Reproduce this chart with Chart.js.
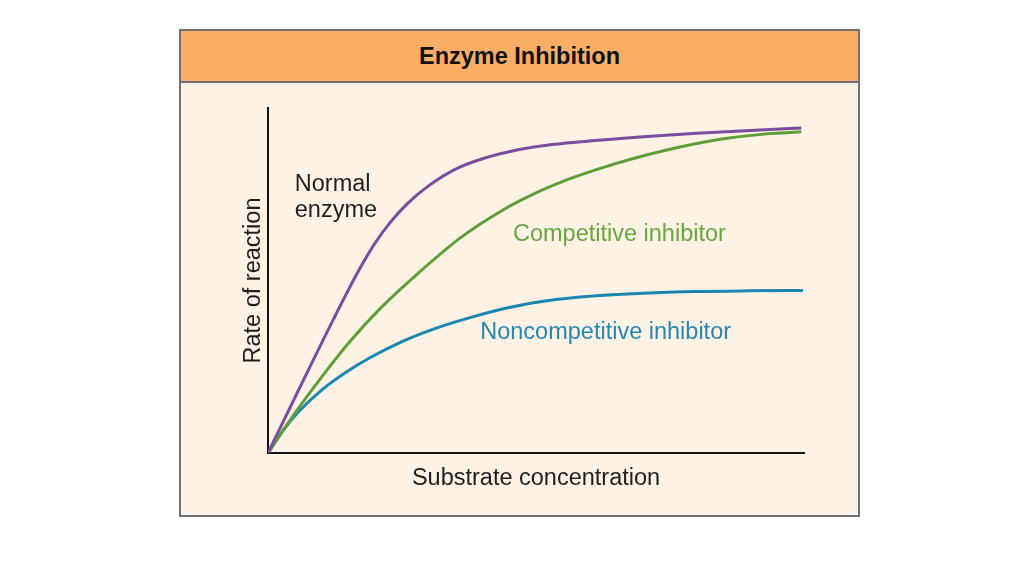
<!DOCTYPE html>
<html>
<head>
<meta charset="utf-8">
<title>Enzyme Inhibition</title>
<script src="https://cdn.jsdelivr.net/npm/chart.js@4"></script>
<style>
  html, body {
    margin: 0;
    padding: 0;
    width: 1024px;
    height: 576px;
    background: #ffffff;
    overflow: hidden;
    font-family: "Liberation Sans", Arial, sans-serif;
  }
  .frame {
    position: absolute;
    left: 179px;
    top: 29px;
    width: 677px;
    height: 484px;
    border: 2px solid #707074;
    background: #fdf2e4;
  }
  .frame .header {
    height: 50px;
    line-height: 50px;
    background: #f9ae64;
    border-bottom: 2px solid #707074;
    text-align: center;
    font-weight: bold;
    font-size: 23.5px;
    color: #111111;
  }
  #chart {
    position: absolute;
    left: 0;
    top: 0;
  }
</style>
</head>
<body>
<div class="frame">
  <div class="header">Enzyme Inhibition</div>
</div>
<canvas id="chart" width="1024" height="576"></canvas>

<script>
// Values (x: substrate concentration, y: rate, both 0-100)
const normalX = [0, 6, 12, 17, 20, 23, 26, 30, 35, 40, 46, 53, 61, 70, 80, 90, 99.5];
const normalY = [0, 19.2, 38.1, 53.1, 60.9, 67.2, 72.3, 77.5, 82.3, 85.3, 87.7, 89.4, 90.6, 91.7, 92.7, 93.5, 94.2];

const competitiveX = [0, 5, 10, 15, 21, 28, 36, 44, 50, 56, 62, 68, 74, 80, 86, 93, 99.5];
const competitiveY = [0, 11.5, 22.0, 31.8, 42.0, 52.1, 62.5, 70.6, 75.4, 79.3, 82.5, 85.3, 87.7, 89.7, 91.3, 92.5, 93.1];

const noncompetitiveX = [0, 3, 6, 10, 14, 19, 25, 31, 38, 45, 52, 60, 70, 80, 90, 99.8];
const noncompetitiveY = [0, 6.9, 12.45, 18.25, 22.85, 27.6, 32.3, 36.0, 39.4, 42.2, 44.1, 45.4, 46.3, 46.8, 47.0, 47.1];

// Curve labels, placed in data units (x = left edge, y = baseline)
const labelTexts = ['Normal', 'enzyme', 'Competitive inhibitor', 'Noncompetitive inhibitor'];
const labelX = [5.0, 5.0, 45.7, 39.6];
const labelY = [75.9, 68.4, 61.4, 33.0];
const labelColors = ['#1f1f1f', '#1f1f1f', '#67a742', '#2587b4'];

const xTitle = 'Substrate concentration';
const yTitle = 'Rate of reaction';

document.addEventListener('DOMContentLoaded', () => {
  drawChart();
});

function toPoints(xs, ys) {
  return xs.map((x, i) => ({ x: x, y: ys[i] }));
}

// Draws curve labels and axis titles using the chart's own scales
const labelPlugin = {
  id: 'curveLabels',
  afterDatasetsDraw(chart) {
    const ctx = chart.ctx;
    const xScale = chart.scales.x;
    const yScale = chart.scales.y;
    const area = chart.chartArea;

    ctx.save();
    ctx.font = '23.5px "Liberation Sans", Arial, sans-serif';
    ctx.textBaseline = 'alphabetic';
    ctx.textAlign = 'left';

    labelTexts.forEach((text, i) => {
      ctx.fillStyle = labelColors[i];
      ctx.fillText(text, xScale.getPixelForValue(labelX[i]), yScale.getPixelForValue(labelY[i]));
    });

    // Axis titles
    ctx.fillStyle = '#1f1f1f';
    ctx.textAlign = 'center';
    ctx.fillText(xTitle, (area.left + area.right) / 2, area.bottom + 32);

    ctx.translate(area.left - 8, (area.top + area.bottom) / 2);
    ctx.rotate(-Math.PI / 2);
    ctx.fillText(yTitle, 0, 0);
    ctx.restore();
  }
};

function drawChart() {
  const ctx = document.getElementById('chart');

  const lineStyle = {
    borderWidth: 3,
    pointRadius: 0,
    fill: false,
    cubicInterpolationMode: 'monotone'
  };

  new Chart(ctx, {
    type: 'line',
    data: {
      datasets: [
        Object.assign({ label: 'Normal enzyme', data: toPoints(normalX, normalY), borderColor: '#7b4da0' }, lineStyle),
        Object.assign({ label: 'Competitive inhibitor', data: toPoints(competitiveX, competitiveY), borderColor: '#5f9f3a' }, lineStyle),
        Object.assign({ label: 'Noncompetitive inhibitor', data: toPoints(noncompetitiveX, noncompetitiveY), borderColor: '#1a86b1' }, lineStyle)
      ]
    },
    options: {
      responsive: false,
      animation: false,
      layout: {
        padding: { left: 268, right: 220, top: 108, bottom: 123 }
      },
      plugins: {
        legend: { display: false },
        tooltip: { enabled: false }
      },
      scales: {
        x: {
          type: 'linear',
          min: 0,
          max: 100,
          grid: { display: false },
          ticks: { display: false },
          border: { display: true, color: '#111111', width: 2 },
          afterFit: scale => { scale.height = 0; }
        },
        y: {
          type: 'linear',
          min: 0,
          max: 100,
          grid: { display: false },
          ticks: { display: false },
          border: { display: true, color: '#111111', width: 2 },
          afterFit: scale => { scale.width = 0; }
        }
      }
    },
    plugins: [labelPlugin]
  });
}
</script>
</body>
</html>
